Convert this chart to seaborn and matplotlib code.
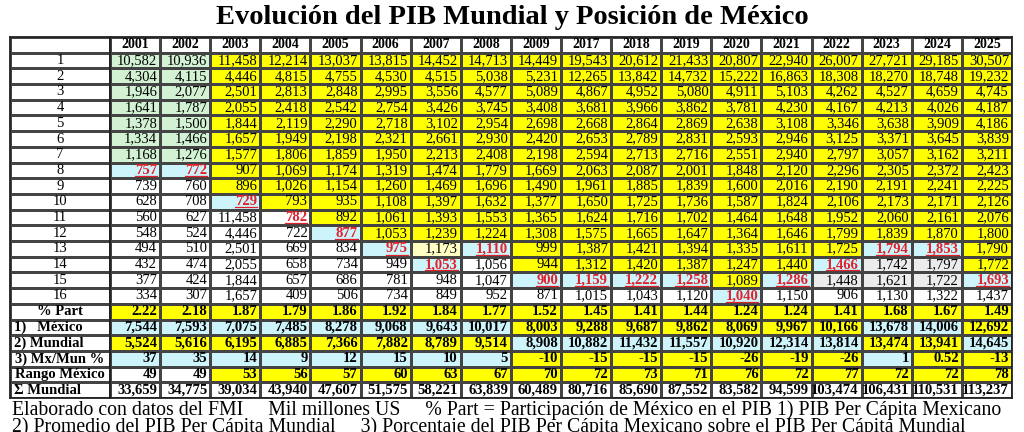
import matplotlib
matplotlib.use("Agg")
import matplotlib.pyplot as plt
from matplotlib.colors import ListedColormap
import numpy as np
import seaborn as sns

years = ["2001", "2002", "2003", "2004", "2005", "2006", "2007", "2008", "2009",
         "2017", "2018", "2019", "2020", "2021", "2022", "2023", "2024", "2025"]

rank_rows = [
    ["10,582", "10,936", "11,458", "12,214", "13,037", "13,815", "14,452", "14,713", "14,449", "19,543", "20,612", "21,433", "20,807", "22,940", "26,007", "27,721", "29,185", "30,507"],
    ["4,304", "4,115", "4,446", "4,815", "4,755", "4,530", "4,515", "5,038", "5,231", "12,265", "13,842", "14,732", "15,222", "16,863", "18,308", "18,270", "18,748", "19,232"],
    ["1,946", "2,077", "2,501", "2,813", "2,848", "2,995", "3,556", "4,577", "5,089", "4,867", "4,952", "5,080", "4,911", "5,103", "4,262", "4,527", "4,659", "4,745"],
    ["1,641", "1,787", "2,055", "2,418", "2,542", "2,754", "3,426", "3,745", "3,408", "3,681", "3,966", "3,862", "3,781", "4,230", "4,167", "4,213", "4,026", "4,187"],
    ["1,378", "1,500", "1,844", "2,119", "2,290", "2,718", "3,102", "2,954", "2,698", "2,668", "2,864", "2,869", "2,638", "3,108", "3,346", "3,638", "3,909", "4,186"],
    ["1,334", "1,466", "1,657", "1,949", "2,198", "2,321", "2,661", "2,930", "2,420", "2,653", "2,789", "2,831", "2,593", "2,946", "3,125", "3,371", "3,645", "3,839"],
    ["1,168", "1,276", "1,577", "1,806", "1,859", "1,950", "2,213", "2,408", "2,198", "2,594", "2,713", "2,716", "2,551", "2,940", "2,797", "3,057", "3,162", "3,211"],
    ["757", "772", "907", "1,069", "1,174", "1,319", "1,474", "1,779", "1,669", "2,063", "2,087", "2,001", "1,848", "2,120", "2,296", "2,305", "2,372", "2,423"],
    ["739", "760", "896", "1,026", "1,154", "1,260", "1,469", "1,696", "1,490", "1,961", "1,885", "1,839", "1,600", "2,016", "2,190", "2,191", "2,241", "2,225"],
    ["628", "708", "729", "793", "935", "1,108", "1,397", "1,632", "1,377", "1,650", "1,725", "1,736", "1,587", "1,824", "2,106", "2,173", "2,171", "2,126"],
    ["560", "627", "11,458", "782", "892", "1,061", "1,393", "1,553", "1,365", "1,624", "1,716", "1,702", "1,464", "1,648", "1,952", "2,060", "2,161", "2,076"],
    ["548", "524", "4,446", "722", "877", "1,053", "1,239", "1,224", "1,308", "1,575", "1,665", "1,647", "1,364", "1,646", "1,799", "1,839", "1,870", "1,800"],
    ["494", "510", "2,501", "669", "834", "975", "1,173", "1,110", "999", "1,387", "1,421", "1,394", "1,335", "1,611", "1,725", "1,794", "1,853", "1,790"],
    ["432", "474", "2,055", "658", "734", "949", "1,053", "1,056", "944", "1,312", "1,420", "1,387", "1,247", "1,440", "1,466", "1,742", "1,797", "1,772"],
    ["377", "424", "1,844", "657", "686", "781", "948", "1,047", "900", "1,159", "1,222", "1,258", "1,089", "1,286", "1,448", "1,621", "1,722", "1,693"],
    ["334", "307", "1,657", "409", "506", "734", "849", "952", "871", "1,015", "1,043", "1,120", "1,040", "1,150", "906", "1,130", "1,322", "1,437"],
]
part = ["2.22", "2.18", "1.87", "1.79", "1.86", "1.92", "1.84", "1.77", "1.52", "1.45", "1.41", "1.44", "1.24", "1.24", "1.41", "1.68", "1.67", "1.49"]
mexico = ["7,544", "7,593", "7,075", "7,485", "8,278", "9,068", "9,643", "10,017", "8,003", "9,288", "9,687", "9,862", "8,069", "9,967", "10,166", "13,678", "14,006", "12,692"]
mundial = ["5,524", "5,616", "6,195", "6,885", "7,366", "7,882", "8,789", "9,514", "8,908", "10,882", "11,432", "11,557", "10,920", "12,314", "13,814", "13,474", "13,941", "14,645"]
mx_mun = ["37", "35", "14", "9", "12", "15", "10", "5", "-10", "-15", "-15", "-15", "-26", "-19", "-26", "1", "0.52", "-13"]
rango = ["49", "49", "53", "56", "57", "60", "63", "67", "70", "72", "73", "71", "76", "72", "77", "72", "72", "78"]
suma = ["33,659", "34,775", "39,034", "43,940", "47,607", "51,575", "58,221", "63,839", "60,489", "80,716", "85,690", "87,552", "83,582", "94,599", "103,474", "106,431", "110,531", "113,237"]
# rank row (1-based) where Mexico sits each year
mex_pos = [8, 8, 10, 11, 12, 13, 14, 13, 15, 15, 15, 15, 16, 15, 14, 13, 13, 15]

row_labels = [str(i) for i in range(1, 17)] + ["% Part", "1)   México", "2) Mundial", "3) Mx/Mun %", "Rango México", "Σ Mundial"]

# cell colour codes per column: W white, G green, Y yellow, B blue, L grey, P pale yellow
col_codes = [
    "GGGGGGGBWWWWWWWW" + "YBYBWW",
    "GGGGGGGBWWWWWWWW" + "YBYBWW",
    "YYYYYYYYYBWWWWWW" + "YBYBYW",
    "YYYYYYYYYYWWWWWW" + "YBYBYW",
    "YYYYYYYYYYYBWWWW" + "YBYBYW",
    "YYYYYYYYYYYYBWWW" + "YBYBYW",
    "YYYYYYYYYYYYPBWW" + "YBYBYW",
    "YYYYYYYYYYYYBWWW" + "YBYBYW",
    "YYYYYYYYYYYYYYBW" + "YYBYYW",
    "YYYYYYYYYYYYYYBW" + "YYBYYW",
    "YYYYYYYYYYYYYYBW" + "YYBYYW",
    "YYYYYYYYYYYYYYBW" + "YYBYYW",
    "YYYYYYYYYYYYYYYB" + "YYBYYW",
    "YYYYYYYYYYYYYYBW" + "YYBYYW",
    "YYYYYYYYYYYYYBLW" + "YYBYYW",
    "YYYYYYYYYYYYBLLW" + "YBYBYW",
    "YYYYYYYYYYYYBLLW" + "YBYYYW",
    "YYYYYYYYYYYYYYBW" + "YYBYYW",
]
palette = {"W": "#ffffff", "G": "#d3f2d3", "Y": "#ffff00", "B": "#cdf4fb", "L": "#ececec", "P": "#ffffc4"}
keys = list(palette)
cmap = ListedColormap([palette[k] for k in keys])

table = rank_rows + [part, mexico, mundial, mx_mun, rango, suma]
nrows = len(table) + 1
codes = np.zeros((nrows, len(years)), dtype=int)
for j, col in enumerate(col_codes):
    for i, c in enumerate(col):
        codes[i + 1, j] = keys.index(c)

plt.rcParams["font.family"] = ["Liberation Serif", "DejaVu Serif"]
fig = plt.figure(figsize=(10.24, 4.32), dpi=100)
H = 432
top, bot = 37, 398
ax_l = fig.add_axes([10 / 1024, (H - bot) / H, 100 / 1024, (bot - top) / H])
ax = fig.add_axes([110 / 1024, (H - bot) / H, 902 / 1024, (bot - top) / H])

kw = dict(cmap=cmap, vmin=-0.5, vmax=len(keys) - 0.5, cbar=False, linewidths=1.0, linecolor="#444444")
sns.heatmap(codes, ax=ax, **kw)
sns.heatmap(np.zeros((nrows, 1), dtype=int), ax=ax_l, **kw)
for a in (ax, ax_l):
    a.set_xticks([]); a.set_yticks([])
    for s in a.spines.values():
        s.set_visible(True); s.set_color("#222222"); s.set_linewidth(1.3)

fs = 10.5
yo = 0.5
for j, y in enumerate(years):
    ax.text(j + 0.5, yo, y, ha="center", va="center", fontsize=fs - 0.5, fontweight="bold")

red_texts = []
for i, row in enumerate(table):
    bold = i >= 16
    for j, v in enumerate(row):
        is_red = i < 16 and mex_pos[j] == i + 1
        t = ax.text(j + 0.94, i + 1 + yo, v, ha="right", va="center", fontsize=fs,
                    fontweight="bold" if (bold or is_red) else "normal",
                    color="#e0202a" if is_red else "black")
        if is_red:
            red_texts.append((t, i + 1))

for i, lab in enumerate(row_labels):
    if lab.startswith("1)") or lab.startswith("2)") or lab.startswith("Σ"):
        ax_l.text(0.04, i + 1 + yo, lab, ha="left", va="center", fontsize=fs, fontweight="bold")
    else:
        ax_l.text(0.5, i + 1 + yo, lab, ha="center", va="center", fontsize=fs,
                  fontweight="bold" if i >= 16 else "normal")

# underline the red values
fig.canvas.draw()
inv = ax.transData.inverted()
r = fig.canvas.get_renderer()
for t, rr in red_texts:
    bb = t.get_window_extent(r)
    (x0, _), (x1, _) = inv.transform([(bb.x0, 0), (bb.x1, 0)])
    ax.plot([x0, x1], [rr + 0.86, rr + 0.86], color="#e0202a", lw=0.9)

fig.text(0.5, (H - 18) / H, "Evolución del PIB Mundial y Posición de México", ha="center", va="center",
         fontsize=20.5, fontweight="bold")
fig.text(12 / 1024, (H - 410) / H,
         "Elaborado con datos del FMI     Mil millones US     % Part = Participación de México en el PIB 1) PIB Per Cápita Mexicano",
         ha="left", va="center", fontsize=14.2)
fig.text(12 / 1024, (H - 427) / H,
         "2) Promedio del PIB Per Cápita Mundial     3) Porcentaje del PIB Per Cápita Mexicano sobre el PIB Per Cápita Mundial",
         ha="left", va="center", fontsize=14.2)

fig.savefig("out.png", dpi=100)
